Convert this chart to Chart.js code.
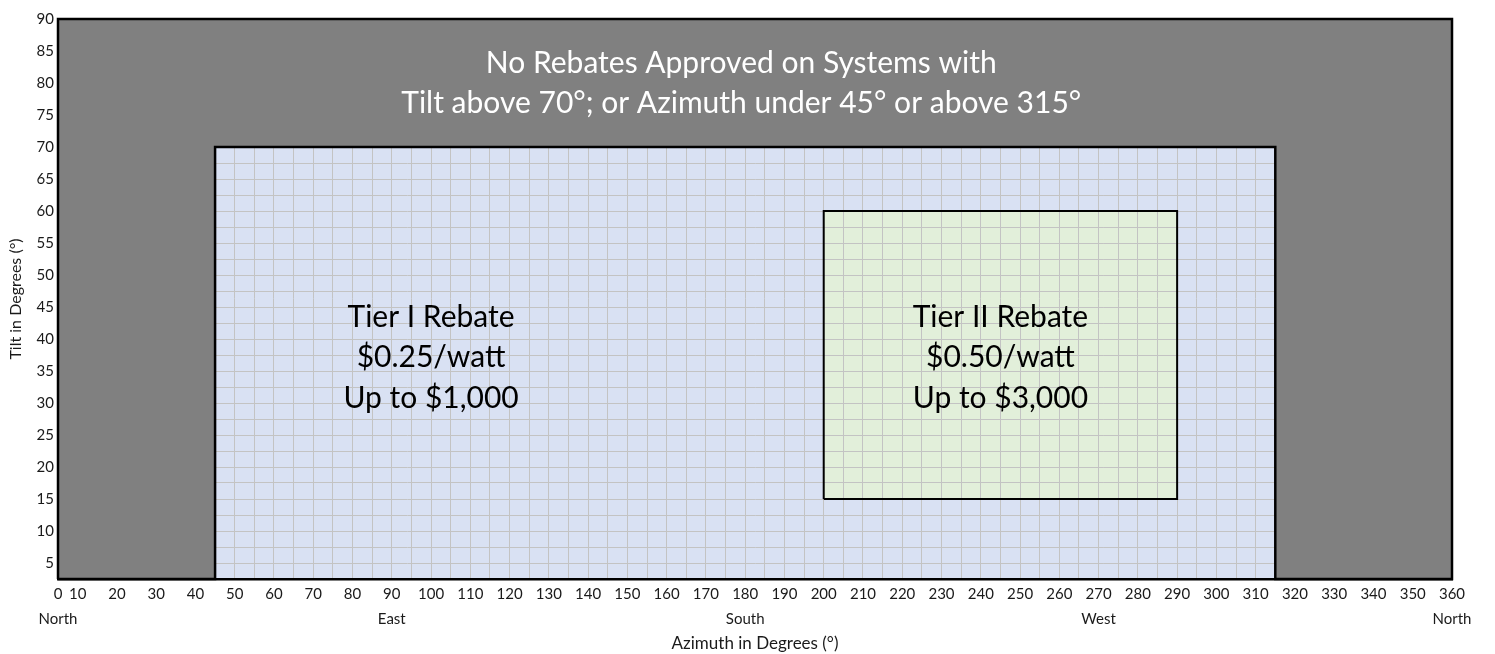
<!DOCTYPE html>
<html>
<head>
<meta charset="utf-8">
<script src="https://cdn.jsdelivr.net/npm/chart.js@4.4.0/dist/chart.umd.min.js"></script>
<style>
  html, body { margin: 0; padding: 0; background: #fff; }
  #wrap { width: 1495px; height: 654px; }
</style>
</head>
<body>
<div id="wrap"><canvas id="rebateChart"></canvas></div>
<script>
// axis extents (the azimuth axis starts at 5, its first tick is printed as 0)
const azimuthRange = [5, 360];
const tiltRange = [2.5, 90];
const compassPoints = { 5: 'North', 90: 'East', 180: 'South', 270: 'West', 360: 'North' };

// rebate zones
const tier1Azimuth = [45, 315];
const tier1Tilt = [2.5, 70];
const tier2Azimuth = [200, 290];
const tier2Tilt = [15, 60];

const noRebateText = ['No Rebates Approved on Systems with', 'Tilt above 70°; or Azimuth under 45° or above 315°'];
const tier1Text = ['Tier I Rebate', '$0.25/watt', 'Up to $1,000'];
const tier2Text = ['Tier II Rebate', '$0.50/watt', 'Up to $3,000'];

const GRAY = '#808080';
const BLUE = '#d9e1f3';
const GREEN = '#e2efda';
const GRID = '#c3c3c3';

function rectPoints(az, tl) {
  return [
    { x: az[0], y: tl[0] }, { x: az[0], y: tl[1] }, { x: az[1], y: tl[1] },
    { x: az[1], y: tl[0] }, { x: az[0], y: tl[0] }
  ];
}

// everything outside tier I is the no-rebate zone
const noRebatePoints = [
  { x: azimuthRange[0], y: tiltRange[0] }, { x: azimuthRange[0], y: tiltRange[1] },
  { x: azimuthRange[1], y: tiltRange[1] }, { x: azimuthRange[1], y: tiltRange[0] },
  { x: tier1Azimuth[1], y: tier1Tilt[0] }, { x: tier1Azimuth[1], y: tier1Tilt[1] },
  { x: tier1Azimuth[0], y: tier1Tilt[1] }, { x: tier1Azimuth[0], y: tier1Tilt[0] },
  { x: azimuthRange[0], y: tiltRange[0] }
];

// zone fills go under the grid, so they are painted before the scales
const zoneFills = {
  id: 'zoneFills',
  beforeDraw(chart) {
    const { ctx, scales: { x, y } } = chart;
    const fill = (az, tl, color) => {
      const x0 = x.getPixelForValue(az[0]), x1 = x.getPixelForValue(az[1]);
      const y0 = y.getPixelForValue(tl[1]), y1 = y.getPixelForValue(tl[0]);
      ctx.fillStyle = color;
      ctx.fillRect(x0, y0, x1 - x0, y1 - y0);
    };
    ctx.save();
    fill(tier1Azimuth, tier1Tilt, BLUE);
    fill(tier2Azimuth, tier2Tilt, GREEN);
    ctx.restore();
  }
};

const zoneText = {
  id: 'zoneText',
  afterDatasetsDraw(chart) {
    const { ctx, scales: { x, y } } = chart;
    const block = (lines, az, tilt, color, size, gap) => {
      ctx.fillStyle = color;
      ctx.font = size + 'px Lato, "Open Sans", sans-serif';
      ctx.textAlign = 'center';
      ctx.textBaseline = 'middle';
      const cx = x.getPixelForValue(az);
      const cy = y.getPixelForValue(tilt) - (lines.length - 1) * gap / 2;
      lines.forEach((t, i) => ctx.fillText(t, cx, cy + i * gap));
    };
    ctx.save();
    block(noRebateText, 179, 80.0, '#ffffff', 30, 40);
    block(tier1Text, 100, 37.1, '#000000', 30, 40.5);
    block(tier2Text, 245, 37.1, '#000000', 30, 40.5);
    ctx.restore();
  }
};

new Chart(document.getElementById('rebateChart'), {
  type: 'scatter',
  data: {
    datasets: [{
      data: noRebatePoints,
      showLine: true,
      fill: 'shape',
      backgroundColor: GRAY,
      borderColor: '#000',
      borderWidth: 2.5,
      borderJoinStyle: 'miter',
      pointRadius: 0,
      clip: 4
    }, {
      data: rectPoints(tier2Azimuth, tier2Tilt),
      showLine: true,
      fill: false,
      borderColor: '#000',
      borderWidth: 2,
      borderJoinStyle: 'miter',
      pointRadius: 0
    }]
  },
  options: {
    responsive: true,
    maintainAspectRatio: false,
    animation: false,
    layout: { padding: { top: 19, right: 43, left: 0, bottom: 0 } },
    plugins: { legend: { display: false }, tooltip: { enabled: false } },
    scales: {
      x: {
        type: 'linear',
        min: azimuthRange[0],
        max: azimuthRange[1],
        afterFit: s => { s.height = 75; },
        grid: { color: GRID, drawTicks: false },
        border: { color: '#000', width: 2.5 },
        ticks: {
          stepSize: 5,
          autoSkip: false,
          maxRotation: 0,
          padding: 3,
          color: '#1a1a1a',
          font: { family: 'Lato', size: 15, lineHeight: 1.67 },
          callback: v => {
            const num = v === azimuthRange[0] ? '0' : (v % 10 === 0 ? String(v) : '');
            return compassPoints[v] ? [num, compassPoints[v]] : num;
          }
        },
        title: {
          display: true,
          text: 'Azimuth in Degrees (°)',
          color: '#1a1a1a',
          font: { family: 'Lato', size: 17 },
          padding: 0
        }
      },
      y: {
        min: tiltRange[0],
        max: tiltRange[1],
        afterFit: s => { s.width = 58; },
        grid: { color: GRID, drawTicks: false },
        border: { color: '#000', width: 2.5 },
        ticks: {
          stepSize: 2.5,
          autoSkip: false,
          padding: 4,
          color: '#1a1a1a',
          font: { family: 'Lato', size: 15 },
          callback: v => (v % 5 === 0 ? String(v) : '')
        },
        title: {
          display: true,
          text: 'Tilt in Degrees (°)',
          color: '#1a1a1a',
          font: { family: 'Lato', size: 16 },
          padding: { top: 6, bottom: 0 }
        }
      }
    }
  },
  plugins: [zoneFills, zoneText]
});
</script>
</body>
</html>
